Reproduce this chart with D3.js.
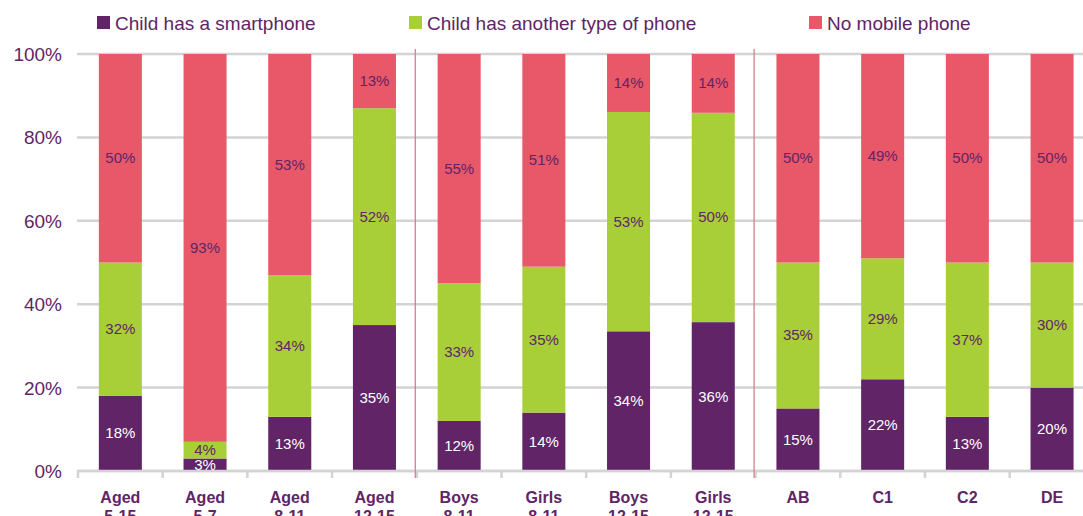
<!DOCTYPE html>
<html><head><meta charset="utf-8">
<script src="https://cdn.jsdelivr.net/npm/d3@7"></script>
<style>body{margin:0;background:#fff;overflow:hidden}svg{display:block;font-family:"Liberation Sans",Arial,sans-serif}</style>
</head><body><svg id="c" width="1083" height="516"></svg>
<script>
const categories = [["Aged","5-15"],["Aged","5-7"],["Aged","8-11"],["Aged","12-15"],["Boys","8-11"],["Girls","8-11"],["Boys","12-15"],["Girls","12-15"],["AB"],["C1"],["C2"],["DE"]];
const smartphone = [18, 3, 13, 35, 12, 14, 33.5, 35.7, 15, 22, 13, 20];
const otherPhone = [32, 4, 34, 52, 33, 35, 52.6, 50.2, 35, 29, 37, 30];
const noPhone    = [50, 93, 53, 13, 55, 51, 13.9, 14.1, 50, 49, 50, 50];
const seriesNames = ["Child has a smartphone","Child has another type of phone","No mobile phone"];
const seriesColors = ["#612466","#a9cf38","#e85869"];
const labelColors = ["#ffffff","#612466","#612466"];
const yTicks = [0, 20, 40, 60, 80, 100];
const dividersAfter = [3, 7];

const svg = d3.select("#c");
const purple = "#612466";
const stepPx = 84.7;
const x = d3.scaleBand().domain(d3.range(categories.length)).range([78, 78 + 12 * stepPx]).paddingInner(0.492).paddingOuter(0.246);
const y = d3.scaleLinear().domain([0, 100]).range([471, 54]);

// gridlines
svg.append("g").selectAll("line").data(yTicks).join("line")
  .attr("x1", 77).attr("x2", 1083).attr("y1", d => y(d)).attr("y2", d => y(d))
  .attr("stroke", "#d3d3d3").attr("stroke-width", 2.5);

// y labels
svg.append("g").selectAll("text").data(yTicks).join("text")
  .attr("x", 62).attr("y", d => y(d) + 7).attr("text-anchor", "end")
  .attr("font-size", 19).attr("fill", purple).text(d => d + "%");

// stack
const rows = categories.map((c, i) => ({i, s0: smartphone[i], s1: otherPhone[i], s2: noPhone[i]}));
const stack = d3.stack().keys(["s0","s1","s2"])(rows);
stack.forEach((layer, k) => {
  svg.append("g").selectAll("rect").data(layer).join("rect")
    .attr("x", d => x(d.data.i)).attr("width", x.bandwidth())
    .attr("y", d => y(d[1])).attr("height", d => y(d[0]) - y(d[1]))
    .attr("fill", seriesColors[k]);
});
stack.forEach((layer, k) => {
  svg.append("g").selectAll("text").data(layer).join("text")
    .attr("x", d => x(d.data.i) + x.bandwidth() / 2)
    .attr("y", d => (y(d[0]) + y(d[1])) / 2 + 5)
    .attr("text-anchor", "middle").attr("font-size", 15)
    .attr("fill", labelColors[k])
    .text(d => Math.round(d[1] - d[0]) + "%");
});

// x axis line and ticks
const step = x.step();
svg.append("line").attr("x1", 77).attr("x2", 1083).attr("y1", 471).attr("y2", 471).attr("stroke", "#d3d3d3").attr("stroke-width", 2.5);
svg.append("g").selectAll("line").data(d3.range(categories.length + 1)).join("line")
  .attr("x1", d => 78 + d * step).attr("x2", d => 78 + d * step)
  .attr("y1", 471).attr("y2", 478).attr("stroke", "#d3d3d3").attr("stroke-width", 2.5);

// dividers
svg.append("g").selectAll("line").data(dividersAfter).join("line")
  .attr("x1", d => 78 + (d + 1) * step - 1.5).attr("x2", d => 78 + (d + 1) * step - 1.5)
  .attr("y1", 49).attr("y2", 478).attr("stroke", "#e07a92").attr("stroke-width", 1.3);

// category labels
const cl = svg.append("g");
categories.forEach((c, i) => {
  const t = cl.append("text").attr("text-anchor", "middle").attr("font-size", 16).attr("font-weight", "bold").attr("fill", purple);
  c.forEach((line, j) => t.append("tspan").attr("x", x(i) + x.bandwidth() / 2).attr("y", 503 + j * 19).text(line));
});

// legend
const legX = [97, 409, 809];
const lg = svg.append("g");
seriesNames.forEach((n, k) => {
  lg.append("rect").attr("x", legX[k]).attr("y", 16).attr("width", 13).attr("height", 13).attr("fill", seriesColors[k]);
  lg.append("text").attr("x", legX[k] + 18).attr("y", 30).attr("font-size", 19).attr("fill", purple).text(n);
});
</script></body></html>
